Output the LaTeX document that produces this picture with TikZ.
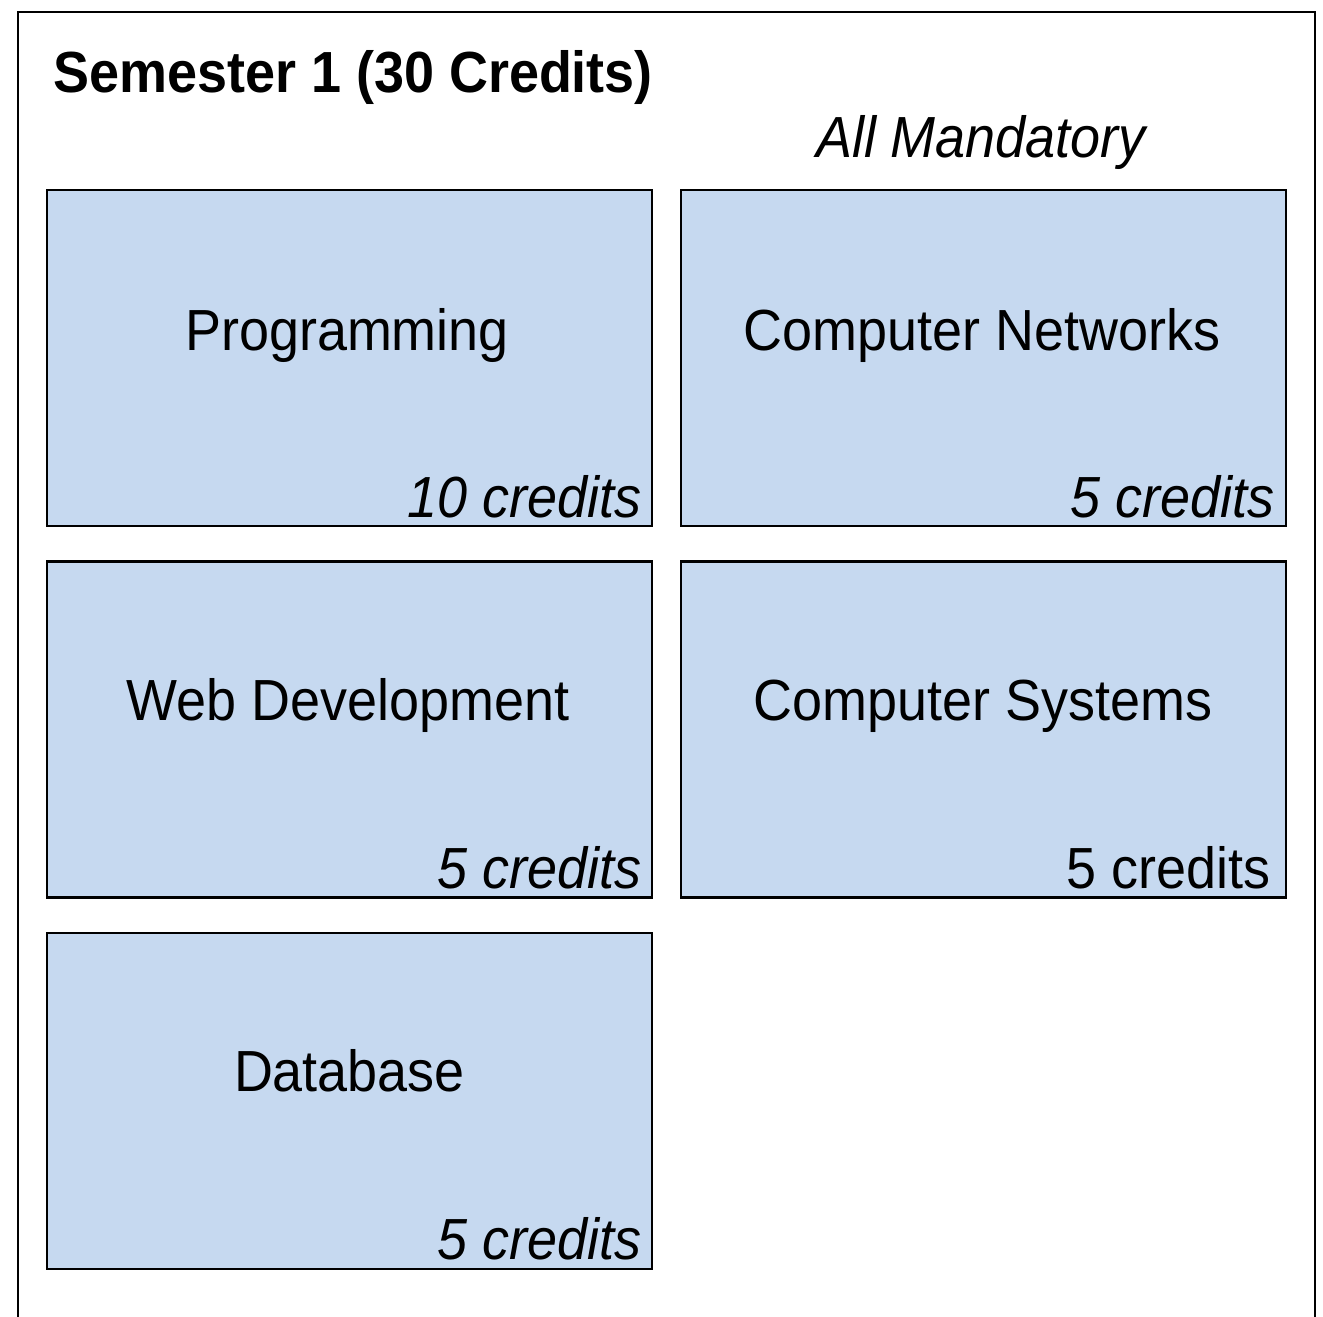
\documentclass[tikz,border=0pt]{standalone}
\usepackage{fontspec}
\setmainfont{Liberation Sans}[FakeStretch=0.93]
\definecolor{boxblue}{HTML}{C6D9F0}
\begin{document}
\begin{tikzpicture}[x=0.5pt,y=-0.5pt,
  course/.style={draw=black,fill=boxblue,line width=1.4pt,minimum width=302.5pt,minimum height=168pt,inner sep=0pt},
  txt/.style={font=\fontsize{29}{35}\selectfont,inner sep=0pt},
  cred/.style={txt,anchor=base east}]
\useasboundingbox (0,0) rectangle (1323,1317);
\draw[line width=1.4pt] (18,1330) -- (18,12) -- (1315,12) -- (1315,1330);
\node[txt,anchor=base west,font=\fontsize{29}{35}\selectfont\bfseries] (title) at (53,92) {Semester 1 (30 Credits)};
\node[txt,anchor=base,font=\fontsize{29}{35}\selectfont\itshape] (mand) at (981,157) {All Mandatory};
\node[course] (prog) at (349.5,358) {};
\node[course] (net) at (983.5,358) {};
\node[course] (web) at (349.5,729.5) {};
\node[course] (sys) at (983.5,729.5) {};
\node[course] (db) at (349.5,1101) {};
\node[txt,anchor=base] (progt) at (347,350) {Programming};
\node[txt,anchor=base] (nett) at (982,350) {Computer Networks};
\node[txt,anchor=base] (webt) at (348,720) {Web Development};
\node[txt,anchor=base] (syst) at (983,720) {Computer Systems};
\node[txt,anchor=base] (dbt) at (349.5,1091) {Database};
\node[cred,font=\fontsize{29}{35}\selectfont\itshape] (progc) at (642,517) {10 credits};
\node[cred,font=\fontsize{29}{35}\selectfont\itshape] (netc) at (1275,517) {5 credits};
\node[cred,font=\fontsize{29}{35}\selectfont\itshape] (webc) at (642,888) {5 credits};
\node[cred] (sysc) at (1271,888) {5 credits};
\node[cred,font=\fontsize{29}{35}\selectfont\itshape] (dbc) at (642,1259) {5 credits};
\end{tikzpicture}
\end{document}
